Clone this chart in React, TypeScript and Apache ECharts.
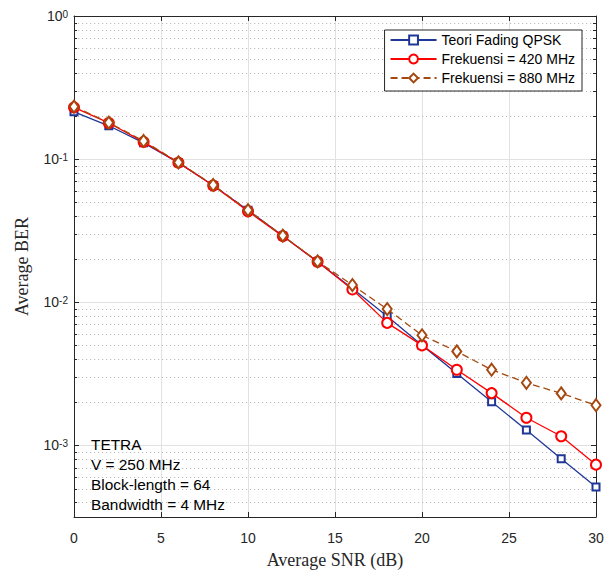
import React, { useEffect, useRef } from 'react';
import * as echarts from 'echarts';

const snr = [0, 2, 4, 6, 8, 10, 12, 14, 16, 18, 20, 22, 24, 26, 28, 30];
const teori = [0.214, 0.171, 0.130, 0.0945, 0.0655, 0.0440, 0.0290, 0.0192, 0.0125, 0.00800, 0.00502, 0.00318, 0.00202, 0.00128, 0.000807, 0.000513];
const f420 = [0.230, 0.179, 0.132, 0.0945, 0.0655, 0.0432, 0.0290, 0.0192, 0.0123, 0.00718, 0.00500, 0.00338, 0.00232, 0.00156, 0.00116, 0.000734];
const f880 = [0.233, 0.180, 0.134, 0.0950, 0.0660, 0.0440, 0.0292, 0.0193, 0.0132, 0.00897, 0.00588, 0.00454, 0.00338, 0.00274, 0.00231, 0.00191];

const seriesNames = ['Teori Fading QPSK', 'Frekuensi = 420 MHz', 'Frekuensi = 880 MHz'];
const annotationLines = ['TETRA', 'V = 250 MHz', 'Block-length = 64', 'Bandwidth = 4 MHz'];
const xTicks = { min: 0, max: 30, interval: 5 };
const yMin = Math.pow(10, -3.5);
const yMax = 1;
const minorDecades = [1e-4, 1e-3, 1e-2, 1e-1];
const minorMultipliers = [2, 3, 4, 5, 6, 7, 8, 9];

const SANS = '"Liberation Sans", Arial, Helvetica, sans-serif';
const SERIF = '"Liberation Serif", "Times New Roman", serif';
const AXIS_COLOR = '#262626';

export default function App() {
  const ref = useRef<HTMLDivElement>(null);
  useEffect(() => {
    if (!ref.current) return;
    const chart = echarts.init(ref.current, undefined, { renderer: 'svg' });

    const minorValues: number[] = [];
    minorDecades.forEach((d) => minorMultipliers.forEach((m) => {
      const v = d * m;
      if (v > yMin && v < yMax) minorValues.push(v);
    }));

    const zip = (ys: number[]) => snr.map((x, i) => [x, ys[i]]);

    const yLabel = (v: number) => {
      const e = Math.log10(v);
      const r = Math.round(e);
      if (Math.abs(e - r) > 1e-6) return '';
      return `{b|10}{s|${r}}`;
    };

    const option: any = {
      animation: false,
      backgroundColor: '#fff',
      grid: { left: 74, right: 16, top: 16, bottom: 50, containLabel: false },
      legend: {
        data: seriesNames,
        orient: 'vertical',
        right: 30,
        top: 30,
        itemWidth: 46,
        itemHeight: 11,
        itemGap: 5,
        padding: [3, 7, 6, 5],
        backgroundColor: '#fff',
        borderColor: AXIS_COLOR,
        borderWidth: 1,
        borderRadius: 0,
        textStyle: { fontFamily: SANS, fontSize: 14, color: '#000' },
      },
      xAxis: [
        {
          type: 'value',
          min: xTicks.min,
          max: xTicks.max,
          interval: xTicks.interval,
          name: 'Average SNR (dB)',
          nameLocation: 'middle',
          nameGap: 34,
          nameTextStyle: { fontFamily: SERIF, fontSize: 18, color: AXIS_COLOR },
          axisLine: { show: true, onZero: false, lineStyle: { color: AXIS_COLOR, width: 1 } },
          axisTick: { show: true, inside: true, length: 5, lineStyle: { color: AXIS_COLOR } },
          axisLabel: { margin: 14, fontFamily: SANS, fontSize: 14, color: AXIS_COLOR },
          splitLine: { show: true, lineStyle: { color: '#e1e1e1', width: 1 } },
        },
        {
          type: 'value',
          position: 'top',
          min: xTicks.min,
          max: xTicks.max,
          interval: xTicks.interval,
          axisLine: { show: true, onZero: false, lineStyle: { color: AXIS_COLOR, width: 1 } },
          axisTick: { show: true, inside: true, length: 5, lineStyle: { color: AXIS_COLOR } },
          axisLabel: { show: false },
          splitLine: { show: false },
        },
      ],
      yAxis: [
        {
          type: 'log',
          logBase: 10,
          min: yMin,
          max: yMax,
          name: 'Average BER',
          nameLocation: 'middle',
          nameGap: 43,
          nameTextStyle: { fontFamily: SERIF, fontSize: 18, color: AXIS_COLOR },
          axisLine: { show: true, onZero: false, lineStyle: { color: AXIS_COLOR, width: 1 } },
          axisTick: { show: true, inside: true, length: 5, lineStyle: { color: AXIS_COLOR } },
          axisLabel: {
            margin: 6,
            formatter: yLabel,
            color: AXIS_COLOR,
            rich: {
              b: { fontFamily: SANS, fontSize: 14, color: AXIS_COLOR, lineHeight: 14, padding: [4, 0, 0, 0], verticalAlign: 'bottom' },
              s: { fontFamily: SANS, fontSize: 10, color: AXIS_COLOR, lineHeight: 10, verticalAlign: 'top' },
            },
          },
          splitLine: { show: true, lineStyle: { color: '#e1e1e1', width: 1 } },
          minorTick: { show: false },
        },
        {
          type: 'log',
          logBase: 10,
          position: 'right',
          min: yMin,
          max: yMax,
          axisLine: { show: true, onZero: false, lineStyle: { color: AXIS_COLOR, width: 1 } },
          axisTick: { show: true, inside: true, length: 5, lineStyle: { color: AXIS_COLOR } },
          axisLabel: { show: false },
          splitLine: { show: false },
        },
      ],
      graphic: [
        {
          type: 'text',
          left: 91,
          top: 434,
          z: 100,
          style: {
            text: annotationLines.join('\n'),
            fontFamily: SANS,
            fontSize: 15.4,
            lineHeight: 20,
            fill: '#000',
          },
        },
      ],
      series: [
        {
          type: 'custom',
          name: 'minorGrid',
          xAxisIndex: 0,
          yAxisIndex: 0,
          silent: true,
          z: 1,
          data: minorValues.map((v) => [xTicks.min, v]),
          renderItem: (params: any, api: any) => {
            const v = api.value(1);
            const l = api.coord([xTicks.min, v]);
            const r = api.coord([xTicks.max, v]);
            const y = Math.round(l[1]) + 0.5;
            const x1 = Math.round(l[0]);
            const x2 = Math.round(r[0]);
            return {
              type: 'group',
              children: [
                { type: 'line', shape: { x1, y1: y, x2, y2: y }, style: { stroke: '#bcbcbc', lineWidth: 1, lineDash: [1.2, 2.8] } },
                { type: 'line', shape: { x1, y1: y, x2: x1 + 3, y2: y }, style: { stroke: AXIS_COLOR, lineWidth: 1 } },
                { type: 'line', shape: { x1: x2 - 3, y1: y, x2, y2: y }, style: { stroke: AXIS_COLOR, lineWidth: 1 } },
              ],
            };
          },
        },
        {
          type: 'line',
          name: seriesNames[0],
          data: zip(teori),
          z: 3,
          symbol: 'emptyRect',
          symbolSize: 7,
          color: '#1f3796',
          lineStyle: { color: '#1f3796', width: 1.3 },
          itemStyle: { color: '#1f3796', borderWidth: 1.3 },
        },
        {
          type: 'line',
          name: seriesNames[1],
          data: zip(f420),
          z: 4,
          symbol: 'emptyCircle',
          symbolSize: 10,
          color: '#ff0000',
          lineStyle: { color: '#ff0000', width: 1.3 },
          itemStyle: { color: '#ff0000', borderWidth: 1.3 },
        },
        {
          type: 'line',
          name: seriesNames[2],
          data: zip(f880),
          z: 5,
          symbol: 'emptyDiamond',
          symbolSize: [9, 12],
          color: '#a5480f',
          lineStyle: { color: '#a5480f', width: 1.3, type: [7, 4] },
          itemStyle: { color: '#a5480f', borderWidth: 1.3 },
        },
      ],
    };
    chart.setOption(option);
    return () => chart.dispose();
  }, []);
  return <div ref={ref} style={{ position: 'fixed', left: 0, top: 0, width: 612, height: 574 }} />;
}
